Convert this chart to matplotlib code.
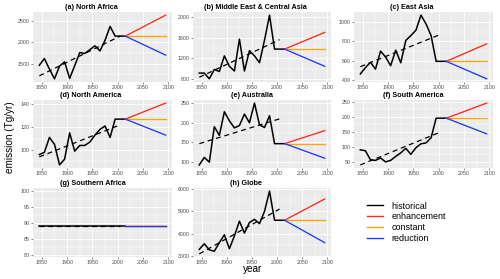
import matplotlib
matplotlib.use('Agg')
import matplotlib.pyplot as plt
from matplotlib.lines import Line2D
from matplotlib.ticker import AutoMinorLocator

plt.rcParams['font.family'] = ['Liberation Sans', 'DejaVu Sans']

# ── Données ───────────────────────────────────────────────────
years_hist = [1845, 1855, 1865, 1875, 1885, 1895, 1905, 1915, 1925,
              1935, 1945, 1955, 1965, 1975, 1985, 1995, 2015]
years_scen = [2015, 2095]
years_trend = [1845, 2005]

titles = ['(a) North Africa', '(b) Middle East & Central Asia', '(c) East Asia',
          '(d) North America', '(e) Australia', '(f) South America',
          '(g) Southern Africa', '(h) Globe']

hist_a = [1460, 1620, 1370, 1140, 1440, 1540, 1150, 1450, 1760,
          1740, 1830, 1920, 1800, 2050, 2380, 2150, 2150]
hist_b = [920, 920, 810, 990, 950, 1250, 1050, 960, 1570,
          960, 1350, 1250, 1120, 1550, 2030, 1380, 1380]
hist_c = [465, 530, 585, 515, 700, 640, 550, 710, 580,
          810, 860, 915, 1070, 980, 860, 595, 595]
hist_d = [96, 98, 111, 105, 87, 92, 115, 99, 104,
          104, 107, 113, 118, 121, 111, 127, 127]
hist_e = [93, 112, 100, 190, 168, 228, 205, 187, 193,
          222, 200, 250, 195, 188, 218, 147, 147]
hist_f = [90, 87, 57, 55, 63, 50, 55, 68, 80,
          95, 75, 97, 110, 113, 130, 195, 195]
hist_g = [89, 89, 89, 89, 89, 89, 89, 89, 89,
          89, 89, 89, 89, 89, 89, 89, 89]
hist_h = [3300, 3550, 3280, 3220, 3600, 3950, 3330, 3900, 4560,
          4030, 4500, 4640, 4450, 5000, 5900, 4600, 4600]

# valeurs 2095 : enhancement, constant, reduction
scen_a = [2645, 2150, 1700]
scen_b = [1700, 1380, 1050]
scen_c = [775, 595, 415]
scen_d = [141, 127, 113]
scen_e = [180, 147, 110]
scen_f = [245, 195, 143]
scen_g = [89, 89, 89]
scen_h = [5550, 4600, 3600]

trend_a = [1210, 2150]
trend_b = [840, 1560]
trend_c = [540, 875]
trend_d = [94, 122]
trend_e = [147, 210]
trend_f = [40, 150]
trend_g = [89, 89]
trend_h = [3100, 5100]

yticks = [[1500, 2000, 2500], [800, 1200, 1600, 2000], [400, 600, 800, 1000],
          [100, 120, 140], [100, 150, 200, 250], [50, 100, 150, 200, 250],
          [80, 85, 90, 95, 100], [3000, 4000, 5000, 6000]]
xticks = [1850, 1900, 1950, 2000, 2050, 2100]

hists = [hist_a, hist_b, hist_c, hist_d, hist_e, hist_f, hist_g, hist_h]
scens = [scen_a, scen_b, scen_c, scen_d, scen_e, scen_f, scen_g, scen_h]
trends = [trend_a, trend_b, trend_c, trend_d, trend_e, trend_f, trend_g, trend_h]

scen_labels = ['enhancement', 'constant', 'reduction']
scen_colors = ['#FF2A1A', '#FFA500', '#1A3CFF']

# ── Mise en page (pixels) ─────────────────────────────────────
W, H = 500, 279
cols = [(33, 172), (193, 331), (354, 493)]
rows = [(12, 82), (100, 168), (188, 257)]
# centre des titres (px) : centrés sur le sous-graphe avec les étiquettes
title_x = [91, 255, 412, 91, 252, 413, 93, 246]

fig = plt.figure(figsize=(5, 2.79), dpi=100)

for i, title in enumerate(titles):
    l, r = cols[i % 3]
    t, b = rows[i // 3]
    ax = fig.add_axes([l / W, 1 - b / H, (r - l) / W, (b - t) / H])
    ax.set_facecolor('#EBEBEB')
    for s in ax.spines.values():
        s.set_visible(False)

    ax.plot(years_trend, trends[i], color='black', lw=0.9, ls=(0, (4, 3)))
    ax.plot(years_hist, hists[i], color='black', lw=1.1)
    last = hists[i][-1]
    for v, c in zip(scens[i], scen_colors):
        ax.plot(years_scen, [last, v], color=c, lw=0.95)

    ax.set_xlim(1832.5, 2107.5)
    if i == 6:
        ax.set_ylim(79.4, 100.9)
    ax.set_xticks(xticks)
    ax.set_yticks(yticks[i])
    ax.xaxis.set_minor_locator(AutoMinorLocator(2))
    ax.yaxis.set_minor_locator(AutoMinorLocator(2))
    ax.grid(which='major', color='white', lw=0.6)
    ax.grid(which='minor', color='white', lw=0.3)
    ax.set_axisbelow(True)
    ax.tick_params(which='major', labelsize=3.8, colors='#333333',
                   labelcolor='#4D4D4D', length=1.5, width=0.4, pad=1)
    ax.tick_params(which='minor', length=0)
    ax.set_title(title, fontsize=5.2, fontweight='bold', pad=2,
                 x=(title_x[i] - l) / (r - l))

fig.text(10 / W, 1 - 137 / H, 'emission (Tg/yr)', rotation=90,
         ha='center', va='center', fontsize=7.2)
fig.text(253 / W, 1 - 269 / H, 'year', ha='center', va='center', fontsize=7.2)

handles = [Line2D([], [], color='black', lw=1.0)]
handles += [Line2D([], [], color=c, lw=1.0) for c in scen_colors]
fig.legend(handles, ['historical'] + scen_labels,
           loc='upper left', bbox_to_anchor=(362 / W, 1 - 197 / H),
           frameon=False, fontsize=6.5, handlelength=1.8,
           handletextpad=1.0, labelspacing=0.2, borderpad=0)

plt.savefig('out.png', dpi=100)
plt.close()
